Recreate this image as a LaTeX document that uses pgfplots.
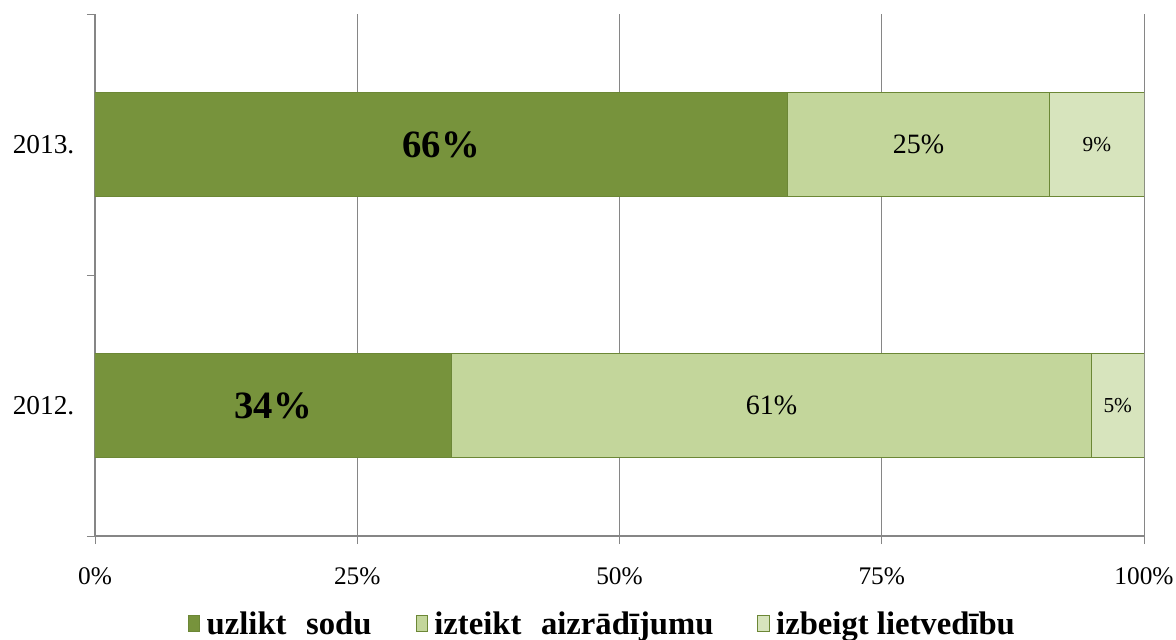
\documentclass[border=0pt]{standalone}
\usepackage{pgfplots}
\pgfplotsset{compat=1.18}
\usepackage{pgfplotstable}
\usepackage{fontspec}
\setmainfont{Liberation Serif}

\definecolor{sodu}{RGB}{119,147,60}
\definecolor{aizr}{RGB}{195,214,155}
\definecolor{lietv}{RGB}{215,228,189}
\definecolor{edge}{RGB}{108,135,54}
\definecolor{gridc}{RGB}{134,134,134}

% shares per year, percent
\pgfplotstableread{
pos sodu aizr lietv
0   34   61   5
1   66   25   9
}\shares

\begin{document}
\begin{tikzpicture}
\begin{axis}[
  xbar stacked,
  scale only axis,
  width=786.75pt, height=391.5pt,
  xmin=0, xmax=100, ymin=-0.5, ymax=1.5,
  bar width=0.4,
  axis x line=bottom, axis y line=left,
  axis line style={gridc, line width=0.8pt, -},
  /pgf/number format/assume math mode=true,
  xtick={0,25,50,75,100},
  xticklabel={\pgfmathprintnumber{\tick}\%},
  minor xtick={0,25,50,75,100},
  ytick={0,1}, yticklabels={2012.,2013.},
  minor ytick={-0.5,0.5,1.5},
  major tick length=0pt, minor tick length=6pt,
  tick align=outside,
  minor tick style={gridc, line width=0.6pt},
  xmajorgrids, grid style={gridc, line width=0.6pt},
  x tick label style={yshift=-20pt, font=\fontsize{19}{19}\selectfont},
  y tick label style={xshift=-12pt, font=\fontsize{20.5}{20.5}\selectfont},
  legend style={at={(0.484,-0.168)}, anchor=center, draw=none,
    legend columns=3, font=\bfseries\fontsize{24.5}{24.5}\selectfont,
    /tikz/every odd column/.append style={column sep=3pt},
    /tikz/every even column/.append style={column sep=31pt}},
  legend image code/.code={\draw[#1, draw=edge, line width=0.6pt] (0pt,-6pt) rectangle (8.5pt,6pt);},
  nodes near coords={\pgfmathprintnumber{\pgfplotspointmeta}\%},
  nodes near coords align={center},
  every node near coord/.append style={anchor=center, text=black},
  point meta=explicit,
]
\addplot[fill=sodu, draw=edge, line width=0.75pt,
  every node near coord/.append style={font=\bfseries\fontsize{29}{29}\selectfont}]
  table[x=sodu, y=pos, meta=sodu] {\shares};
\addplot[fill=aizr, draw=edge, line width=0.75pt,
  every node near coord/.append style={font=\fontsize{21}{21}\selectfont}]
  table[x=aizr, y=pos, meta=aizr] {\shares};
\addplot[fill=lietv, draw=edge, line width=0.75pt,
  every node near coord/.append style={font=\fontsize{16}{16}\selectfont}]
  table[x=lietv, y=pos, meta=lietv] {\shares};
\legend{uzlikt\hspace{0.6em}sodu, izteikt\hspace{0.6em}aizrādījumu, izbeigt lietvedību}
\end{axis}
\pgfresetboundingbox
\useasboundingbox (-71.25pt,-77.25pt) rectangle (810.75pt,402pt);
\end{tikzpicture}
\end{document}
